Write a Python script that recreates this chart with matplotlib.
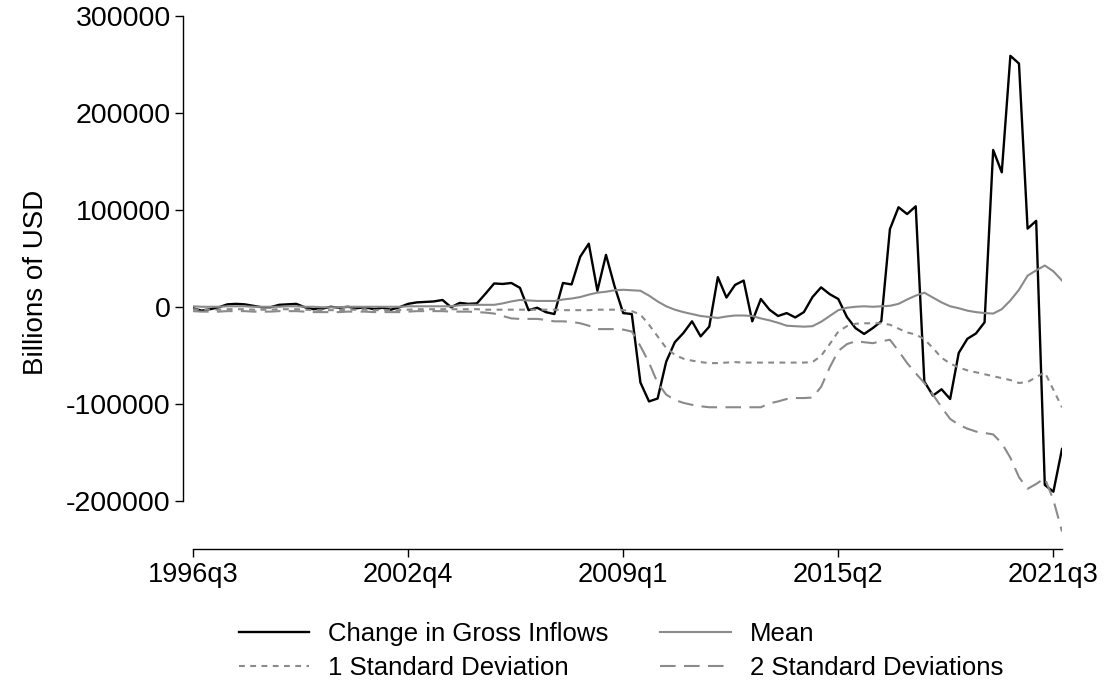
import matplotlib
matplotlib.use("Agg")
import matplotlib.pyplot as plt
import numpy as np

plt.rcParams['font.family'] = ['Liberation Sans', 'DejaVu Sans']

# quarterly observations, 1996q3 .. 2021q4
start_year, start_q = 1996, 3
tick_every = 25

gross_inflows = [
    -1000, -3500, -2000, 0, 3000, 3500, 3000, 1500, 0, 0,
    2500, 3000, 3500, 0, -2000, -1500, 500, -500, 500, -1000,
    0, -2000, -500, -2500, 0, 3500, 5000, 5500, 6000, 7500,
    0, 4500, 3500, 4000, 14000, 24500, 24000, 25000, 20000, -3000,
    -500, -5000, -7000, 25000, 23500, 52000, 65500, 17000, 54000, 21500,
    -6000, -7000, -77500, -97000, -94000, -56000, -36000, -26500, -14500, -30000,
    -20000, 31000, 10000, 23000, 27500, -14500, 8500, -2500, -9000, -6000,
    -10500, -5000, 10500, 20500, 13500, 8500, -10000, -21500, -27500, -21500,
    -14500, 80500, 103000, 96000, 104000, -76500, -91000, -84500, -94500, -47000,
    -32500, -27000, -15500, 162000, 139000, 259000, 251000, 81000, 89000, -183000,
    -190000, -146000,
]

mean = [
    1000, 500, 500, 500, 1000, 1000, 1000, 500, 500, 500,
    500, 1000, 1000, 500, 500, 0, 0, 0, 500, 500,
    500, 500, 500, 500, 500, 1000, 1000, 1000, 1000, 1000,
    1000, 2000, 2500, 2500, 2500, 2500, 4000, 6000, 7500, 7000,
    6500, 6500, 6500, 8000, 9000, 10500, 13000, 15000, 16000, 17500,
    18000, 17500, 17000, 12000, 6000, 1000, -2500, -5000, -7000, -9000,
    -10000, -11000, -9500, -8500, -8500, -9000, -11500, -13500, -16000, -19000,
    -19500, -20000, -19500, -15000, -9000, -3000, -500, 500, 1000, 500,
    1000, 1500, 3500, 8000, 12000, 15000, 10000, 5000, 1000, -1000,
    -3500, -5000, -6000, -6500, -2000, 7000, 18000, 32500, 38000, 43000,
    37000, 27500,
]

sd1 = [
    -2000, -2500, -2500, -2500, -2000, -2000, -2000, -2500, -2500, -2500,
    -2000, -2000, -2000, -2500, -3000, -3000, -3000, -3000, -2500, -2500,
    -2500, -3000, -3000, -3000, -3000, -2500, -2000, -2000, -2000, -2000,
    -2000, -2000, -2000, -2000, -2500, -2500, -2500, -2500, -2500, -2500,
    -2500, -2500, -2500, -3000, -3000, -3000, -3000, -2500, -2500, -2500,
    -3000, -4000, -7500, -18000, -30000, -42000, -49000, -53000, -55000, -56500,
    -57500, -57500, -57000, -56500, -57000, -57000, -57000, -57000, -57000, -57000,
    -57000, -57000, -56500, -50000, -38000, -25000, -19500, -17000, -16500, -16500,
    -16500, -18000, -22000, -26000, -28000, -33000, -42000, -52000, -58000, -62000,
    -65000, -67000, -69000, -71000, -73000, -75000, -78000, -77000, -72000, -67000,
    -85000, -103000,
]

sd2 = [
    -4000, -4500, -4500, -4500, -4000, -4000, -4000, -4500, -4500, -4500,
    -4000, -4000, -4000, -4500, -5000, -5000, -5000, -5000, -4500, -4500,
    -4500, -5000, -5000, -5000, -5000, -4500, -4000, -4000, -4000, -4000,
    -4500, -4500, -4500, -5000, -5500, -6500, -9000, -11500, -12000, -12000,
    -12000, -13000, -14500, -14500, -15000, -16500, -19000, -22500, -22500, -22500,
    -23000, -25000, -40000, -57000, -78000, -90000, -95500, -98500, -100500, -102000,
    -103000, -103000, -103000, -103000, -103000, -103000, -103000, -99000, -97000, -94500,
    -93500, -93500, -93000, -82000, -62000, -45000, -38000, -35000, -36000, -37000,
    -35000, -33500, -45000, -57500, -68000, -78000, -90000, -103000, -115000, -121000,
    -125000, -128000, -129500, -131000, -140000, -155000, -175000, -187000, -182000, -176000,
    -198500, -231000,
]

y_ticks = [-200000, -100000, 0, 100000, 200000, 300000]


def quarter_label(i):
    n = start_year * 4 + (start_q - 1) + i
    return "%dq%d" % (n // 4, n % 4 + 1)


x = np.arange(len(gross_inflows))
gray = '#8a8a8a'

fig = plt.figure(figsize=(11.07, 6.88), dpi=100)
ax = fig.add_axes([193 / 1107, 1 - 549 / 688, 869 / 1107, 533 / 688])

l_gross, = ax.plot(x, gross_inflows, color='black', lw=1.7)
l_mean, = ax.plot(x, mean, color=gray, lw=1.5)
l_sd1, = ax.plot(x, sd1, color=gray, lw=1.5, dashes=(2.8, 2.6))
l_sd2, = ax.plot(x, sd2, color=gray, lw=1.5, dashes=(7.5, 4.0))

ax.set_xlim(0, len(x) - 1)
ax.set_ylim(-249000, 300000)

xt = list(range(0, len(x), tick_every))
ax.set_xticks(xt)
ax.set_xticklabels([quarter_label(i) for i in xt])
ax.set_yticks(y_ticks)
ax.set_yticklabels([str(v) for v in y_ticks])

for s in ['top', 'right']:
    ax.spines[s].set_visible(False)
ax.spines['left'].set_position(('outward', 7))
ax.spines['left'].set_bounds(y_ticks[0], y_ticks[-1])
ax.spines['bottom'].set_bounds(0, len(x) - 1)
for s in ['left', 'bottom']:
    ax.spines[s].set_linewidth(1.0)

ax.tick_params(axis='both', length=6, width=1.0, direction='out', pad=3)
ax.tick_params(axis='y', labelsize=20.5)
ax.tick_params(axis='x', labelsize=19.5)
ax.set_ylabel('Billions of USD', fontsize=20, labelpad=12)

# legend filled row by row like the original
handles = [l_gross, l_sd1, l_mean, l_sd2]
labels = ['Change in Gross Inflows', '1 Standard Deviation', 'Mean', '2 Standard Deviations']
fig.legend(handles, labels, loc='upper center', bbox_to_anchor=(621 / 1107, 1 - 609 / 688), ncol=2,
           frameon=False, fontsize=18.5, handlelength=2.75, handletextpad=0.75,
           columnspacing=2.0, labelspacing=0.4, borderpad=0)

fig.savefig('out.png', dpi=100)
